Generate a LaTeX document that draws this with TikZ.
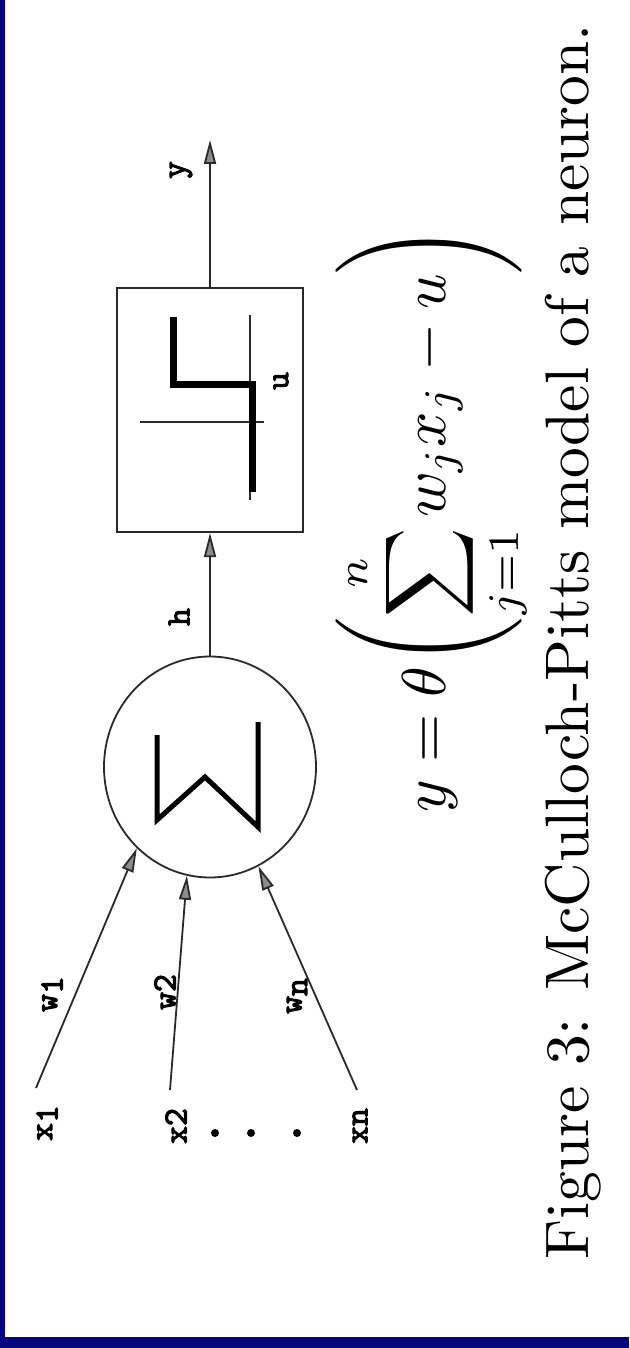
\documentclass[tikz,border=0pt]{standalone}
\usepackage{amsmath}
\usepackage{fontspec}
\usetikzlibrary{positioning, shapes.geometric, arrows.meta}
\newfontfamily\labelfont{Latin Modern Mono}[FakeBold=3]
\definecolor{FrameBlue}{HTML}{06067E}
\definecolor{Ink}{HTML}{2A2A2A}
\newcommand{\lowered}[1]{\raisebox{-1.6pt}{#1}}

\begin{document}
\begin{tikzpicture}[x=1pt, y=-1pt,
    wire/.style={draw=Ink, line width=1.8pt},
    feed/.style={wire, -{Triangle[length=24pt, width=12pt, fill=black!45]}},
    tag/.style={rotate=90, scale=3.4, inner sep=0pt, font=\labelfont},
    heavy/.style={line width=5pt, line join=miter}]
\fill[FrameBlue] (0,0) rectangle (629,1348);
\fill[white] (5,0) rectangle (629,1337);
\useasboundingbox (0,0) rectangle (629,1348);

\node[ellipse, wire, minimum width=212pt, minimum height=221pt, inner sep=0pt] (adder) at (210,767) {};
\node[rectangle, wire, line width=2.2pt, minimum width=186pt, minimum height=244pt] (threshold) at (210,410) {};

\draw[heavy] (157,735) -- (157,820) -- (205,777) -- (258,827) -- (258,722);
\draw[Ink, line width=2pt] (250,315) -- (250,500);
\draw[Ink, line width=2pt] (140,422) -- (264,422);
\draw[line width=7pt] (173,317) |- (252,384) -- (252,492);

\coordinate (out) at (210,140);
\coordinate (in1) at (36,1088);
\coordinate (in2) at (170,1090);
\coordinate (inn) at (357,1090);

\draw[feed] (adder.north) -- (threshold.south);
\draw[feed] (threshold.north) -- (out);
\draw[feed] (in1) -- (adder.228);
\draw[feed] (in2) -- (adder.258);
\draw[feed] (inn) -- (adder.296);

\node[tag] (ylab) at (181,170) {y};
\node[tag] (hlab) at (179,617) {h};
\node[tag] (ulab) at (281,381) {u};
\node[tag] (w1) at (52,994) {w\lowered{1}};
\node[tag] (w2) at (165,992) {w2};
\node[tag] (wn) at (297,996) {w\lowered{n}};
\node[tag] (x1) at (47,1123) {x\lowered{1}};
\node[tag] (x2) at (176,1126) {x2};
\node[tag] (xn) at (360,1126) {xn};
\foreach \d in {215,251,297}
  \fill (\d,1133) circle[radius=4pt];

\node[rotate=90, anchor=base, scale=6.2, inner sep=0pt] (rule) at (445,519)
  {$\displaystyle y=\theta\Biggl(\sum_{j=1}^{n}w_jx_j-u\Biggr)$};
\node[rotate=90, anchor=base, scale=6.15, inner sep=0pt] (caption) at (588,642)
  {Figure 3: McCulloch-Pitts model of a neuron.};
\end{tikzpicture}
\end{document}
